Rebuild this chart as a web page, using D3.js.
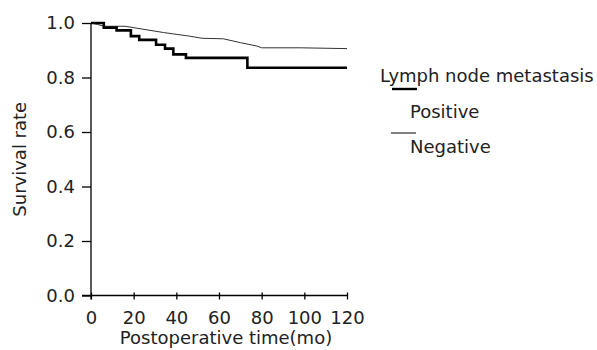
<!DOCTYPE html>
<html>
<head>
<meta charset="utf-8">
<script src="https://cdn.jsdelivr.net/npm/d3@7"></script>
<style>
  body { margin: 0; background: #fff; }
  svg text { font-family: "DejaVu Sans", sans-serif; font-size: 18px; fill: #222; }
</style>
</head>
<body>
<svg id="chart" width="597" height="350"></svg>
<script>
// survival data (months, survival rate)
const positiveTime = [0, 6, 12, 18.7, 22.6, 30.5, 34.7, 38.6, 44.5, 73.3, 120];
const positiveRate = [1.0, 0.983, 0.973, 0.952, 0.938, 0.92, 0.906, 0.885, 0.872, 0.836, 0.836];
const negativeTime = [0, 3, 6, 16, 34, 46, 52, 62, 70, 78, 80, 98, 120];
const negativeRate = [1.0, 0.995, 0.988, 0.988, 0.965, 0.952, 0.944, 0.942, 0.928, 0.915, 0.909, 0.909, 0.906];
const xTicks = [0, 20, 40, 60, 80, 100, 120];
const yTicks = [0, 0.2, 0.4, 0.6, 0.8, 1.0];
const legendTitle = "Lymph node metastasis";
const legendLabels = ["Positive", "Negative"];

const svg = d3.select("#chart");
const x = d3.scaleLinear().domain([0, 120]).range([91, 347]);
const y = d3.scaleLinear().domain([0, 1]).range([295.5, 23]);

// y axis
const yAxis = svg.append("g").attr("transform", `translate(${x(0)},0)`)
  .call(d3.axisLeft(y).tickValues(yTicks).tickFormat(d3.format(".1f")).tickSize(9).tickPadding(7));
yAxis.select(".domain").remove();
yAxis.selectAll("line").attr("stroke", "#000").attr("stroke-width", 1.3);
yAxis.selectAll("text").attr("font-size", null).attr("font-family", null).attr("fill", null);
svg.append("line").attr("x1", x(0)).attr("x2", x(0)).attr("y1", y(1)).attr("y2", y(0) + 4)
  .attr("stroke", "#000").attr("stroke-width", 1.3);

// x axis
const xAxis = svg.append("g").attr("transform", `translate(0,${y(0)})`)
  .call(d3.axisBottom(x).tickValues(xTicks).tickSize(4));
xAxis.select(".domain").remove();
xAxis.selectAll("line").attr("y1", -3).attr("y2", 4).attr("stroke", "#000").attr("stroke-width", 1.3);
xAxis.selectAll("text").attr("y", 16).attr("font-size", null).attr("font-family", null).attr("fill", null);
svg.append("line").attr("x1", x(0) - 9).attr("x2", x(120)).attr("y1", y(0)).attr("y2", y(0))
  .attr("stroke", "#000").attr("stroke-width", 1.3);

// titles
svg.append("text").attr("x", (x(0) + x(120)) / 2 + 7).attr("y", 344).attr("text-anchor", "middle")
  .text("Postoperative time(mo)");
svg.append("text").attr("transform", `translate(26,${(y(0) + y(1)) / 2}) rotate(-90)`)
  .attr("text-anchor", "middle").text("Survival rate");

// curves
const negLine = d3.line().x(d => x(d[0])).y(d => y(d[1]));
const posLine = d3.line().x(d => x(d[0])).y(d => y(d[1])).curve(d3.curveStepAfter);
svg.append("path").datum(d3.zip(negativeTime, negativeRate)).attr("d", negLine)
  .attr("fill", "none").attr("stroke", "#333").attr("stroke-width", 1);
svg.append("path").datum(d3.zip(positiveTime, positiveRate)).attr("d", posLine)
  .attr("fill", "none").attr("stroke", "#000").attr("stroke-width", 2.6);

// legend
const key = svg.append("g");
key.append("text").attr("x", 380).attr("y", 82).text(legendTitle);
key.append("line").attr("x1", 392).attr("x2", 417).attr("y1", 89).attr("y2", 89)
  .attr("stroke", "#000").attr("stroke-width", 2.4);
key.append("text").attr("x", 410).attr("y", 118).text(legendLabels[0]);
key.append("line").attr("x1", 391).attr("x2", 416).attr("y1", 133).attr("y2", 133)
  .attr("stroke", "#000").attr("stroke-width", 1);
key.append("text").attr("x", 410).attr("y", 153).text(legendLabels[1]);
</script>
</body>
</html>
